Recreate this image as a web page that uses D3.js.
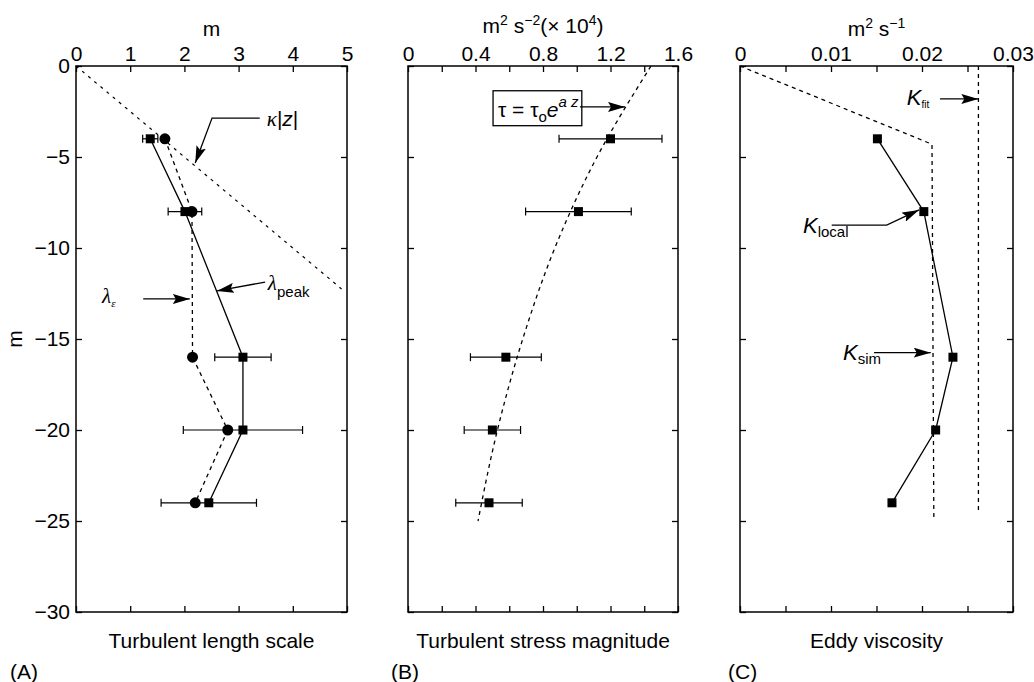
<!DOCTYPE html>
<html lang="en">
<head>
<meta charset="UTF-8">
<title>Turbulent length scale, stress and eddy viscosity</title>
<script src="https://d3js.org/d3.v7.min.js"></script>
<style>
  body { margin: 0; background: #fff; }
  svg { font-family: "Liberation Sans", Arial, sans-serif; }
  .box { fill: none; stroke: #000; stroke-width: 1.5px; }
  .axis path { display: none; }
  .axis line { stroke: #000; stroke-width: 1.3px; }
  .axis text { font-size: 21px; fill: #000; font-family: "Liberation Sans", Arial, sans-serif; }
  .title { font-size: 21px; fill: #000; }
  .solid { fill: none; stroke: #000; stroke-width: 1.3px; }
  .dash { fill: none; stroke: #000; stroke-width: 1.3px; stroke-dasharray: 4 4; }
  .dot { fill: none; stroke: #000; stroke-width: 1.2px; stroke-dasharray: 3 5; }
  .err { stroke: #000; stroke-width: 1.2px; }
  .arrow { fill: none; stroke: #000; stroke-width: 1.3px; }
  .ann { font-size: 21px; fill: #000; }
</style>
</head>
<body>
<script>
// depths of the measurements (m)
const depths = [-4, -8, -16, -20, -24];
const yTicks = [0, -5, -10, -15, -20, -25, -30];

// (A) turbulent length scale, m
const lambdaPeak = [1.37, 2.01, 3.08, 3.08, 2.45];
const lambdaPeakErr = [0.14, 0.31, 0.52, 1.10, 0.88];
const lambdaEps = [1.64, 2.14, 2.15, 2.80, 2.20];
const kzDepth = [0, -12.25];
const kzValue = [0, 4.9];

// (B) turbulent stress magnitude, m2 s-2 (x 10^4)
const stress = [1.20, 1.01, 0.58, 0.50, 0.48];
const stressErr = [0.305, 0.313, 0.21, 0.167, 0.197];
const fitDepth = [0, -5, -10, -15, -20, -25];
const fitStress = [1.44, 1.12, 0.87, 0.68, 0.53, 0.415];

// (C) eddy viscosity, m2 s-1
const kLocal = [0.0151, 0.0202, 0.0234, 0.0215, 0.0167];
const kSimDepth = [0, -4.3, -24.8];
const kSim = [0, 0.0211, 0.0213];
const kFitDepth = [0, -24.6];
const kFit = [0.0262, 0.0262];

const width = 1034, height = 682;
const yTop = 66, yBottom = 612;

const svg = d3.select('body').append('svg')
    .attr('width', width)
    .attr('height', height);

svg.append('defs').append('marker')
    .attr('id', 'head')
    .attr('markerUnits', 'userSpaceOnUse')
    .attr('markerWidth', 18).attr('markerHeight', 10)
    .attr('refX', 17).attr('refY', 5)
    .attr('orient', 'auto')
  .append('path')
    .attr('d', 'M0,0 L17,5 L0,10 L3,5 z')
    .attr('fill', '#000');

const y = d3.scaleLinear().domain([0, -30]).range([yTop, yBottom]);

const panels = [
    { x0: 76, x1: 347, domain: [0, 5], ticks: d3.range(0, 5.01, 1), labels: d3.range(0, 5.01, 1), fmt: d3.format('d') },
    { x0: 408, x1: 678, domain: [0, 1.6], ticks: d3.range(0, 1.61, 0.2), labels: [0, 0.4, 0.8, 1.2, 1.6], fmt: d3.format('.1f') },
    { x0: 740, x1: 1013, domain: [0, 0.03], ticks: d3.range(0, 0.0301, 0.005), labels: [0, 0.01, 0.02, 0.03], fmt: d3.format('.2f') }
];

const line = (x, zs, vs) => d3.line()(zs.map((z, i) => [x(vs[i]), y(z)]));

panels.forEach((p, i) => {
    const x = d3.scaleLinear().domain(p.domain).range([p.x0, p.x1]);
    p.x = x;
    const g = svg.append('g');
    const isLab = v => p.labels.some(l => Math.abs(l - v) < 1e-9);
    const fmt = v => Math.abs(v) < 1e-12 ? '0' : (isLab(v) ? p.fmt(v) : '');

    g.append('g').attr('class', 'axis')
        .attr('transform', `translate(0,${yTop})`)
        .call(d3.axisTop(x).tickValues(p.ticks).tickSize(-6).tickPadding(5).tickFormat(fmt));
    g.append('g').attr('class', 'axis')
        .attr('transform', `translate(0,${yBottom})`)
        .call(d3.axisBottom(x).tickValues(p.ticks).tickSize(-6).tickFormat(''));
    g.append('g').attr('class', 'axis')
        .attr('transform', `translate(${p.x0},0)`)
        .call(d3.axisLeft(y).tickValues(yTicks).tickSize(-6).tickPadding(6)
            .tickFormat(i === 0 ? d3.format('d') : ''));
    g.append('g').attr('class', 'axis')
        .attr('transform', `translate(${p.x1},0)`)
        .call(d3.axisRight(y).tickValues(yTicks).tickSize(-6).tickFormat(''));

    g.append('rect').attr('class', 'box')
        .attr('x', p.x0).attr('y', yTop)
        .attr('width', p.x1 - p.x0).attr('height', yBottom - yTop);
    p.g = g;
});

function errorBars(g, x, vals, errs) {
    const eb = g.append('g');
    depths.forEach((z, i) => {
        const a = x(vals[i] - errs[i]), b = x(vals[i] + errs[i]), yy = y(z);
        eb.append('line').attr('class', 'err').attr('x1', a).attr('x2', b).attr('y1', yy).attr('y2', yy);
        eb.append('line').attr('class', 'err').attr('x1', a).attr('x2', a).attr('y1', yy - 4).attr('y2', yy + 4);
        eb.append('line').attr('class', 'err').attr('x1', b).attr('x2', b).attr('y1', yy - 4).attr('y2', yy + 4);
    });
}
function squares(g, x, vals) {
    g.append('g').selectAll('rect').data(vals).join('rect')
        .attr('x', d => x(d) - 4.5).attr('y', (d, i) => y(depths[i]) - 4.5)
        .attr('width', 9).attr('height', 9).attr('fill', '#000');
}
function arrow(g, x, pts) {
    g.append('path').attr('class', 'arrow')
        .attr('d', d3.line()(pts.map(q => [x(q[0]), y(q[1])])))
        .attr('marker-end', 'url(#head)');
}

// ---- (A)
{
    const { g, x } = panels[0];
    g.append('path').attr('class', 'dot').attr('d', line(x, kzDepth, kzValue));
    g.append('path').attr('class', 'dash').attr('d', line(x, depths, lambdaEps));
    g.append('path').attr('class', 'solid').attr('d', line(x, depths, lambdaPeak));
    errorBars(g, x, lambdaPeak, lambdaPeakErr);
    g.append('g').selectAll('circle').data(lambdaEps).join('circle')
        .attr('cx', d => x(d)).attr('cy', (d, i) => y(depths[i])).attr('r', 5.5).attr('fill', '#000');
    squares(g, x, lambdaPeak);

    arrow(g, x, [[3.39, -2.86], [2.51, -2.86], [2.2, -5.33]]);
    arrow(g, x, [[3.49, -11.87], [2.6, -12.36]]);
    arrow(g, x, [[1.24, -12.8], [2.1, -12.8]]);

    const t1 = g.append('text').attr('class', 'ann').attr('x', x(3.52)).attr('y', y(-3.3));
    t1.append('tspan').attr('font-family', '"Liberation Serif", serif').attr('font-style', 'italic').text('κ');
    t1.append('tspan').text('|');
    t1.append('tspan').attr('font-style', 'italic').text('z');
    t1.append('tspan').text('|');

    const t2 = g.append('text').attr('class', 'ann').attr('x', x(3.54)).attr('y', y(-12.31));
    t2.append('tspan').attr('font-family', '"Liberation Serif", serif').attr('font-style', 'italic').text('λ');
    t2.append('tspan').attr('font-size', 15).attr('dy', 7).text('peak');

    const t3 = g.append('text').attr('class', 'ann').attr('fill', '#444').attr('x', x(0.48)).attr('y', y(-13.02));
    t3.append('tspan').attr('font-family', '"Liberation Serif", serif').attr('font-style', 'italic').text('λ');
    t3.append('tspan').attr('font-family', '"Liberation Serif", serif').attr('font-style', 'italic')
        .attr('font-size', 11).attr('dy', 4).text('ε');

    svg.append('text').attr('class', 'title').attr('text-anchor', 'middle')
        .attr('x', (panels[0].x0 + panels[0].x1) / 2).attr('y', 35.5).text('m');
    svg.append('text').attr('class', 'title').attr('text-anchor', 'middle')
        .attr('transform', `translate(22,${(yTop + yBottom) / 2}) rotate(-90)`).text('m');
}

// ---- (B)
{
    const { g, x } = panels[1];
    g.append('path').attr('class', 'dash').attr('stroke-dasharray', '5 6')
        .attr('d', d3.line().curve(d3.curveMonotoneY)(fitDepth.map((z, i) => [x(fitStress[i]), y(z)])));
    errorBars(g, x, stress, stressErr);
    squares(g, x, stress);

    g.append('rect').attr('fill', '#fff').attr('stroke', '#000').attr('stroke-width', 1.3)
        .attr('x', x(0.504)).attr('y', y(-1.36))
        .attr('width', x(1.03) - x(0.504)).attr('height', y(-3.28) - y(-1.36));
    arrow(g, x, [[1.019, -2.25], [1.286, -2.25]]);
    const t = g.append('text').attr('class', 'ann').attr('x', x(0.533)).attr('y', y(-2.8));
    t.append('tspan').text('τ = τ');
    t.append('tspan').attr('font-size', 15).attr('dy', 5).text('o');
    t.append('tspan').attr('font-style', 'italic').attr('dy', -5).text('e');
    t.append('tspan').attr('font-style', 'italic').attr('font-size', 15).attr('dy', -10).text('a  z');
}

// ---- (C)
{
    const { g, x } = panels[2];
    g.append('path').attr('class', 'dash').attr('d', line(x, kSimDepth, kSim));
    g.append('path').attr('class', 'dash').attr('d', line(x, kFitDepth, kFit));
    g.append('path').attr('class', 'solid').attr('d', line(x, depths, kLocal));
    squares(g, x, kLocal);

    arrow(g, x, [[0.02198, -1.81], [0.02619, -1.81]]);
    arrow(g, x, [[0.01008, -8.74], [0.01612, -8.74], [0.01967, -7.91]]);
    arrow(g, x, [[0.01473, -15.75], [0.02096, -15.75]]);

    const lab = (v, z, sub, size, dy) => {
        const t = g.append('text').attr('class', 'ann').attr('x', x(v)).attr('y', y(z));
        t.append('tspan').attr('font-style', 'italic').attr('font-size', 22).text('K');
        t.append('tspan').attr('font-size', size).attr('dy', dy).text(sub);
    };
    lab(0.01832, -2.14, 'fit', 10, 3);
    lab(0.00692, -9.18, 'local', 15, 4);
    lab(0.01132, -16.15, 'sim', 15, 4);
}

// top unit titles
{
    const tb = svg.append('text').attr('class', 'title').attr('text-anchor', 'middle')
        .attr('x', (panels[1].x0 + panels[1].x1) / 2).attr('y', 32.5);
    tb.append('tspan').text('m');
    tb.append('tspan').attr('font-size', 14).attr('dy', -8).text('2');
    tb.append('tspan').attr('dy', 8).text(' s');
    tb.append('tspan').attr('font-size', 14).attr('dy', -8).text('−2');
    tb.append('tspan').attr('dy', 8).text('(× 10');
    tb.append('tspan').attr('font-size', 14).attr('dy', -8).text('4');
    tb.append('tspan').attr('dy', 8).text(')');

    const tc = svg.append('text').attr('class', 'title').attr('text-anchor', 'middle')
        .attr('x', (panels[2].x0 + panels[2].x1) / 2).attr('y', 36);
    tc.append('tspan').text('m');
    tc.append('tspan').attr('font-size', 14).attr('dy', -8).text('2');
    tc.append('tspan').attr('dy', 8).text(' s');
    tc.append('tspan').attr('font-size', 14).attr('dy', -8).text('−1');
}

// bottom titles and panel letters
const bottomTitles = ['Turbulent length scale', 'Turbulent stress magnitude', 'Eddy viscosity'];
const panelLetters = ['(A)', '(B)', '(C)'];
const letterX = [10, 391, 728];
panels.forEach((p, i) => {
    svg.append('text').attr('class', 'title').attr('text-anchor', 'middle')
        .attr('x', (p.x0 + p.x1) / 2).attr('y', 648).text(bottomTitles[i]);
    svg.append('text').attr('class', 'title').attr('font-size', 20)
        .attr('x', letterX[i]).attr('y', 679).text(panelLetters[i]);
});
</script>
</body>
</html>
